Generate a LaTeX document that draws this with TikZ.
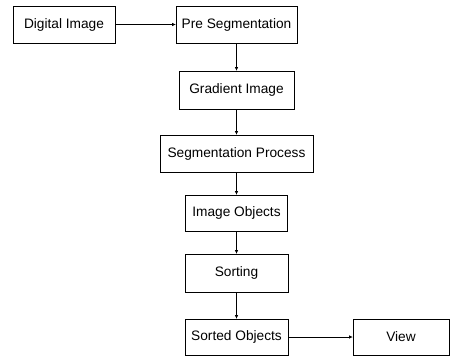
\documentclass[tikz,border=0pt]{standalone}
\usepackage{fontspec}
\setmainfont{Liberation Sans}
\usetikzlibrary{arrows.meta}
\begin{document}
\begin{tikzpicture}[x=1pt,y=-1pt,
  box/.style={draw=black,line width=0.8pt,inner sep=0pt,align=center,font=\fontsize{13.7}{16}\selectfont},
  conn/.style={draw=black,line width=0.7pt,-{Triangle[length=3.5pt,width=3pt]}}]
\useasboundingbox (0,0) rectangle (450,356);
\node[box,minimum width=102pt,minimum height=37pt] (dig) at (64,24.5) {Digital Image};
\node[box,minimum width=121pt,minimum height=37pt] (pre) at (236.5,24.5) {Pre Segmentation};
\node[box,minimum width=115pt,minimum height=38pt] (grad) at (236.5,90) {Gradient Image};
\node[box,minimum width=153pt,minimum height=37pt] (seg) at (236.5,153.5) {Segmentation Process};
\node[box,minimum width=102pt,minimum height=36pt] (obj) at (236.5,213) {Image Objects};
\node[box,minimum width=103pt,minimum height=38pt] (sort) at (236.5,273) {Sorting};
\node[box,minimum width=103pt,minimum height=36pt] (sorted) at (236.5,337) {Sorted Objects};
\node[box,minimum width=96pt,minimum height=36pt] (view) at (401,337) {View};
\draw[conn] (dig) -- (pre);
\draw[conn] (pre) -- (grad);
\draw[conn] (grad) -- (seg);
\draw[conn] (seg) -- (obj);
\draw[conn] (obj) -- (sort);
\draw[conn] (sort) -- (sorted);
\draw[conn] (sorted) -- (view);
\end{tikzpicture}
\end{document}
